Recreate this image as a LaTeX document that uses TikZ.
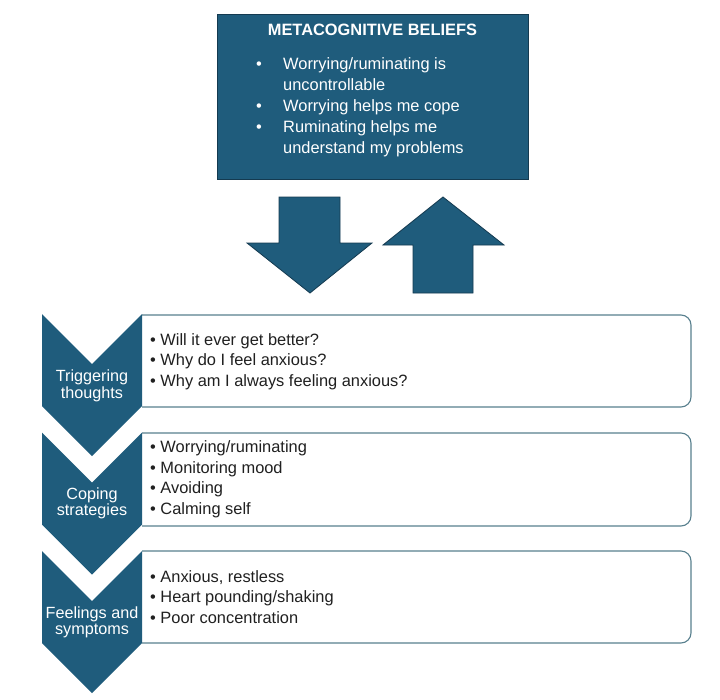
\documentclass[tikz,border=0pt]{standalone}
\usepackage{fontspec}
\setmainfont{Liberation Sans}
\definecolor{mcblue}{RGB}{31,92,124}
\definecolor{mcedge}{RGB}{20,58,80}
\definecolor{boxedge}{RGB}{88,128,142}
\definecolor{txt}{RGB}{32,32,32}
\begin{document}
\begin{tikzpicture}[x=1pt,y=-1pt,
  blockshape/.style={fill=mcblue,draw=mcedge,line width=0.8pt},
  chev/.style={fill=mcblue},
  tbox/.style={draw=boxedge,line width=1.1pt,fill=white},
  boxtext/.style={anchor=west,align=left,text=txt,font=\fontsize{16.4}{20.5}\selectfont,inner sep=0pt},
  chevtext/.style={align=center,text=white,font=\fontsize{16.2}{16.5}\selectfont,inner sep=0pt},
  toptext/.style={anchor=west,text=white,inner sep=0pt,font=\fontsize{16.4}{21}\selectfont}]
\useasboundingbox (0,0) rectangle (720,699);
\fill[white] (0,0) rectangle (720,699);

% top box
\node[blockshape, minimum width=311pt, minimum height=165pt, anchor=north west, inner sep=0pt] (mc) at (217,14) {};
\node[text=white,inner sep=0pt,font=\bfseries\fontsize{16.4}{18}\selectfont] (title) at (372.5,30) {METACOGNITIVE BELIEFS};
\node[toptext] (mclist) at (256,107) {\begin{tabular}{@{}l@{}l@{}}
\makebox[27pt][l]{•} & Worrying/ruminating is\\
 & uncontrollable\\
\makebox[27pt][l]{•} & Worrying helps me cope\\
\makebox[27pt][l]{•} & Ruminating helps me\\
 & understand my problems
\end{tabular}};

% block arrows
\draw[blockshape] (279,197) -- (340,197) -- (340,243) -- (372,243) -- (310,293) -- (247,243) -- (279,243) -- cycle;
\draw[blockshape] (443,197) -- (504,245) -- (473,245) -- (473,293) -- (413,293) -- (413,245) -- (383,245) -- cycle;

% text boxes
\foreach \t/\b in {315/407, 433/526, 551/643} {
  \begin{scope}
    \clip (142,\t-5) rectangle (700,\b+5);
    \draw[tbox, rounded corners=10pt] (120,\t) rectangle (691,\b);
  \end{scope}
}

% chevrons
\foreach \y in {314, 432.5, 551} {
  \fill[chev] (42,\y) -- (92,\y+50) -- (142,\y) -- (142,\y+92) -- (92,\y+142) -- (42,\y+92) -- cycle;
}

\node[chevtext] (c1) at (92,386) {Triggering\\thoughts};
\node[chevtext] (c2) at (92,503.5) {Coping\\strategies};
\node[chevtext] (c3) at (92,622.5) {Feelings and\\symptoms};

\node[boxtext] (t1) at (150,361.5) {• Will it ever get better?\\• Why do I feel anxious?\\• Why am I always feeling anxious?};
\node[boxtext] (t2) at (150,479.5) {• Worrying/ruminating\\• Monitoring mood\\• Avoiding\\• Calming self};
\node[boxtext] (t3) at (150,597) {• Anxious, restless\\• Heart pounding/shaking\\• Poor concentration};
\end{tikzpicture}
\end{document}
